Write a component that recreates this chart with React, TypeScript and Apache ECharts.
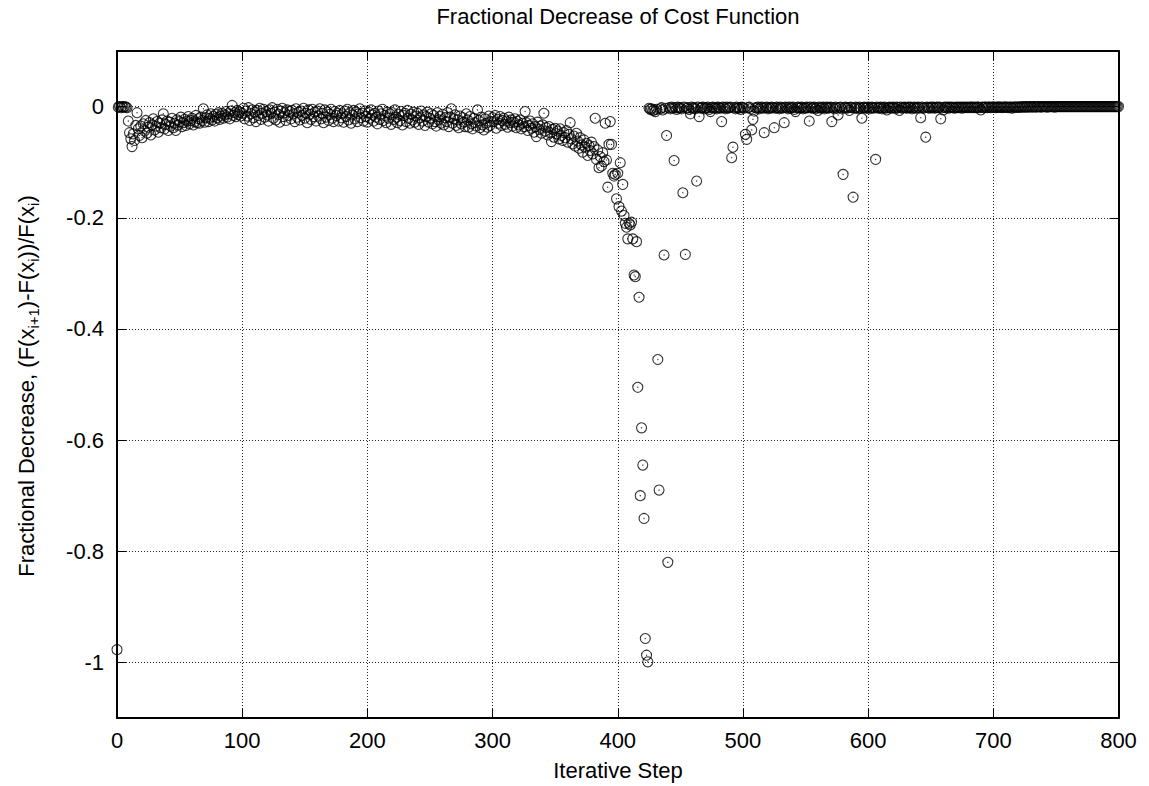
import React, { useEffect, useRef } from 'react';
import * as echarts from 'echarts';

const titleText = 'Fractional Decrease of Cost Function';
const xAxisTitle = 'Iterative Step';
const yAxisTitleRich = '{m|Fractional Decrease, (F(x}{s|i+1}{m|)-F(x}{s|i}{m|))/F(x}{s|i}{m|)}';

const xTicks = [0, 100, 200, 300, 400, 500, 600, 700, 800];
const yTicks = [-1, -0.8, -0.6, -0.4, -0.2, 0];
const yMin = -1.1;
const yMax = 0.1;

// steps 0..19
const stepsHead = [
  -0.977, -0.001, 0, -0.002, 0, -0.001, 0, -0.001, -0.002, -0.026,
  -0.047, -0.058, -0.072, -0.049, -0.061, -0.034, -0.011, -0.04, -0.052, -0.035,
];

// steps 20..99
const band20to99 = [
  -0.056, -0.031, -0.044, -0.025, -0.048, -0.037, -0.029, -0.051, -0.033, -0.022,
  -0.042, -0.035, -0.027, -0.046, -0.03, -0.038, -0.024, -0.013, -0.04, -0.032,
  -0.026, -0.043, -0.028, -0.035, -0.021, -0.038, -0.03, -0.043, -0.024, -0.033,
  -0.027, -0.019, -0.036, -0.029, -0.023, -0.034, -0.026, -0.018, -0.031, -0.025,
  -0.021, -0.033, -0.027, -0.016, -0.029, -0.022, -0.03, -0.019, -0.025, -0.004,
  -0.028, -0.02, -0.015, -0.027, -0.021, -0.013, -0.024, -0.018, -0.026, -0.014,
  -0.02, -0.011, -0.023, -0.017, -0.012, -0.021, -0.015, -0.009, -0.019, -0.013,
  -0.022, -0.008, 0.002, -0.016, -0.011, -0.018, -0.007, -0.014, -0.01, -0.017,
];

// steps 100..299
const band100to299 = [
  -0.012, -0.003, -0.022, -0.008, -0.017, -0.002, -0.025, -0.013, -0.006, -0.02, -0.01, -0.027, -0.007, -0.016, -0.003, -0.023, -0.012, -0.005, -0.019, -0.009,
  -0.015, -0.026, -0.006, -0.012, -0.002, -0.021, -0.01, -0.024, -0.005, -0.014, -0.028, -0.008, -0.003, -0.018, -0.011, -0.025, -0.006, -0.016, -0.009, -0.022,
  -0.007, -0.013, -0.027, -0.004, -0.019, -0.01, -0.024, -0.008, -0.016, -0.003, -0.021, -0.012, -0.029, -0.006, -0.014, -0.023, -0.005, -0.018, -0.01, -0.026,
  -0.008, -0.017, -0.004, -0.022, -0.012, -0.029, -0.006, -0.019, -0.01, -0.025, -0.014, -0.005, -0.021, -0.027, -0.009, -0.016, -0.012, -0.026, -0.007, -0.02,
  -0.013, -0.028, -0.008, -0.018, -0.005, -0.024, -0.011, -0.03, -0.015, -0.007, -0.022, -0.01, -0.027, -0.013, -0.004, -0.02, -0.012, -0.026, -0.008, -0.018,
  -0.028, -0.01, -0.021, -0.006, -0.015, -0.026, -0.012, -0.019, -0.031, -0.008, -0.023, -0.013, -0.005, -0.025, -0.016, -0.029, -0.01, -0.021, -0.013, -0.032,
  -0.011, -0.023, -0.006, -0.019, -0.029, -0.014, -0.025, -0.009, -0.033, -0.016, -0.012, -0.027, -0.007, -0.021, -0.03, -0.014, -0.024, -0.01, -0.028, -0.017,
  -0.012, -0.032, -0.02, -0.008, -0.026, -0.015, -0.034, -0.018, -0.01, -0.028, -0.021, -0.013, -0.031, -0.016, -0.027, -0.035, -0.011, -0.024, -0.018, -0.03,
  -0.014, -0.033, -0.02, -0.027, -0.011, -0.036, -0.019, -0.004, -0.03, -0.022, -0.015, -0.034, -0.024, -0.038, -0.017, -0.031, -0.02, -0.028, -0.036, -0.013,
  -0.024, -0.037, -0.018, -0.031, -0.04, -0.021, -0.029, -0.035, -0.006, -0.025, -0.038, -0.019, -0.033, -0.042, -0.022, -0.03, -0.037, -0.017, -0.034, -0.027,
];

// steps 300..379
const band300to379 = [
  -0.02, -0.027, -0.016, -0.039, -0.023, -0.03, -0.018, -0.034, -0.025, -0.021, -0.032, -0.026, -0.037, -0.019, -0.029, -0.024, -0.035, -0.028, -0.022, -0.038,
  -0.027, -0.033, -0.024, -0.04, -0.03, -0.036, -0.009, -0.029, -0.043, -0.034, -0.026, -0.039, -0.031, -0.046, -0.036, -0.054, -0.028, -0.041, -0.035, -0.048,
  -0.033, -0.012, -0.044, -0.038, -0.051, -0.036, -0.047, -0.063, -0.041, -0.055, -0.039, -0.049, -0.044, -0.058, -0.04, -0.052, -0.061, -0.047, -0.056, -0.043,
  -0.064, -0.05, -0.029, -0.058, -0.067, -0.053, -0.071, -0.048, -0.062, -0.075, -0.056, -0.069, -0.082, -0.06, -0.073, -0.066, -0.088, -0.07, -0.079, -0.064,
];

// steps 380..424
const fall380to424 = [
  -0.085, -0.072, -0.021, -0.095, -0.078, -0.11, -0.09, -0.107, -0.083, -0.099,
  -0.03, -0.096, -0.145, -0.068, -0.027, -0.068, -0.12, -0.125, -0.122, -0.166,
  -0.12, -0.18, -0.101, -0.188, -0.14, -0.196, -0.21, -0.217, -0.238, -0.21,
  -0.213, -0.208, -0.238, -0.303, -0.306, -0.243, -0.505, -0.343, -0.7, -0.578,
  -0.645, -0.741, -0.957, -0.987, -0.999,
];

// steps 425..800
const tail425to800 = [
  -0.003, -0.005, -0.004, -0.007, -0.006, -0.009, -0.005, -0.455, -0.69, -0.004, -0.002, -0.006, -0.267, -0.003, -0.052, -0.82, -0.002, -0.004, -0.001, -0.003,
  -0.097, -0.002, -0.005, -0.001, -0.003, -0.002, -0.004, -0.155, -0.001, -0.266, -0.003, -0.002, -0.005, -0.013, -0.001, -0.003, -0.002, -0.004, -0.134, -0.001,
  -0.018, -0.003, -0.002, -0.001, -0.004, -0.002, -0.003, -0.001, -0.005, -0.009, -0.002, -0.001, -0.003, -0.002, -0.004, -0.001, -0.002, -0.003, -0.027, -0.001,
  -0.002, -0.004, -0.001, -0.003, -0.002, -0.001, -0.092, -0.073, -0.002, -0.004, -0.001, -0.003, -0.002, -0.005, -0.001, -0.002, -0.003, -0.05, -0.059, -0.002,
  -0.001, -0.004, -0.042, -0.023, -0.008, -0.002, -0.003, -0.001, -0.004, -0.002, -0.001, -0.003, -0.047, -0.002, -0.001, -0.004, -0.002, -0.003, -0.001, -0.002,
  -0.038, -0.003, -0.001, -0.002, -0.004, -0.001, -0.003, -0.002, -0.029, -0.001, -0.002, -0.004, -0.001, -0.003, -0.002, -0.001, -0.005, -0.009, -0.002, -0.001,
  -0.003, -0.002, -0.001, -0.004, -0.002, -0.003, -0.001, -0.002, -0.026, -0.001, -0.003, -0.002, -0.001, -0.004, -0.002, -0.007, -0.001, -0.003, -0.002, -0.001,
  -0.004, -0.002, -0.001, -0.003, -0.002, -0.001, -0.027, -0.002, -0.004, -0.001, -0.003, -0.015, -0.002, -0.001, -0.004, -0.122, -0.002, -0.001, -0.003, -0.002,
  -0.007, -0.001, -0.002, -0.163, -0.003, -0.001, -0.002, -0.004, -0.001, -0.003, -0.021, -0.002, -0.001, -0.003, -0.002, -0.001, -0.004, -0.002, -0.001, -0.003,
  -0.002, -0.095, -0.001, -0.003, -0.002, -0.001, -0.004, -0.002, -0.001, -0.003, -0.006, -0.002, -0.001, -0.003, -0.002, -0.001, -0.002, -0.004, -0.001, -0.002,
  -0.007, -0.001, -0.003, -0.002, -0.001, -0.002, -0.003, -0.001, -0.002, -0.001, -0.004, -0.002, -0.001, -0.003, -0.002, -0.001, -0.002, -0.02, -0.001, -0.003,
  -0.002, -0.055, -0.001, -0.002, -0.003, -0.001, -0.002, -0.001, -0.003, -0.002, -0.001, -0.002, -0.001, -0.022, -0.002, -0.006, -0.001, -0.002, -0.001, -0.003,
  -0.001, -0.002, -0.001, -0.002, -0.003, -0.001, -0.002, -0.001, -0.002, -0.001, -0.003, -0.001, -0.002, -0.001, -0.002, -0.001, -0.002, -0.001, -0.001, -0.002,
  -0.001, -0.002, -0.001, -0.001, -0.002, -0.006, -0.001, -0.002, -0.001, -0.001, -0.002, -0.001, -0.001, -0.002, -0.001, -0.001, -0.001, -0.002, -0.001, -0.001,
  -0.001, -0.001, -0.002, -0.001, -0.001, -0.001, -0.001, -0.002, -0.001, -0.001, -0.003, -0.001, -0.001, -0.001, -0.001, -0.001, -0.001, -0.001, 0, -0.001,
  0, -0.001, 0, -0.001, 0, 0, -0.001, 0, 0, -0.001, 0, 0, 0, -0.001, 0, 0, 0, 0, -0.001, 0,
  0, 0, 0, 0, -0.001, 0, 0, 0, 0, 0, 0, 0, 0, 0, 0, 0, 0, 0, 0, 0,
  0, 0, 0, 0, 0, 0, 0, 0, 0, 0, 0, 0, 0, 0, 0, 0, 0, 0, 0, 0,
  0, 0, 0, 0, 0, 0, 0, 0, 0, 0, 0, 0, 0, 0, 0, 0,
];

const FONT = "'Liberation Sans', Arial, Helvetica, sans-serif";

export default function App() {
  const ref = useRef<HTMLDivElement>(null);

  useEffect(() => {
    document.body.style.margin = '0';
    if (!ref.current) return;
    const chart = echarts.init(ref.current, null, { renderer: 'svg' });

    const values = [
      ...stepsHead,
      ...band20to99,
      ...band100to299,
      ...band300to379,
      ...fall380to424,
      ...tail425to800,
    ];
    const data = values.map((v, i) => [i, v]);

    const gridLine = { show: true, lineStyle: { color: '#222', width: 1, type: [1, 2] } };
    const frameLine = { show: true, onZero: false, lineStyle: { color: '#000', width: 2 } };
    const tick = { show: true, inside: true, length: 9, lineStyle: { color: '#000', width: 1 } };
    const xInterval = xTicks[1] - xTicks[0];

    chart.setOption({
      animation: false,
      backgroundColor: '#fff',
      grid: { left: 117, right: 30.5, top: 51, bottom: 68, containLabel: false },
      xAxis: [
        {
          type: 'value',
          position: 'bottom',
          min: xTicks[0],
          max: xTicks[xTicks.length - 1],
          interval: xInterval,
          axisLine: frameLine,
          axisTick: tick,
          splitLine: gridLine,
          axisLabel: { show: true, margin: 11, color: '#000', fontSize: 22, fontFamily: FONT },
        },
        {
          type: 'value',
          position: 'top',
          min: xTicks[0],
          max: xTicks[xTicks.length - 1],
          interval: xInterval,
          axisLine: frameLine,
          axisTick: tick,
          splitLine: { show: false },
          axisLabel: { show: false },
        },
      ],
      yAxis: [
        {
          type: 'value',
          position: 'left',
          min: yMin,
          max: yMax,
          axisLine: frameLine,
          axisTick: { ...tick, customValues: yTicks },
          splitLine: gridLine,
          axisLabel: {
            show: true,
            customValues: yTicks,
            margin: 13,
            color: '#000',
            fontSize: 22,
            fontFamily: FONT,
          },
        },
        {
          type: 'value',
          position: 'right',
          min: yMin,
          max: yMax,
          axisLine: frameLine,
          axisTick: { ...tick, customValues: yTicks },
          splitLine: { show: false },
          axisLabel: { show: false },
        },
      ],
      graphic: [
        {
          type: 'text',
          x: 618,
          y: 16,
          silent: true,
          style: {
            text: titleText,
            fill: '#000',
            fontSize: 22,
            fontFamily: FONT,
            align: 'center',
            verticalAlign: 'middle',
            textAlign: 'center',
            textVerticalAlign: 'middle',
          },
        },
        {
          type: 'text',
          x: 618,
          y: 770,
          silent: true,
          style: {
            text: xAxisTitle,
            fill: '#000',
            fontSize: 22,
            fontFamily: FONT,
            align: 'center',
            verticalAlign: 'middle',
            textAlign: 'center',
            textVerticalAlign: 'middle',
          },
        },
        {
          type: 'text',
          x: 26,
          y: 386,
          rotation: Math.PI / 2,
          silent: true,
          style: {
            text: yAxisTitleRich,
            fill: '#000',
            fontSize: 22,
            fontFamily: FONT,
            align: 'center',
            verticalAlign: 'middle',
            textAlign: 'center',
            textVerticalAlign: 'middle',
            rich: {
              m: { fontSize: 22, fontFamily: FONT, fill: '#000', color: '#000', lineHeight: 30 },
              s: { fontSize: 15, fontFamily: FONT, fill: '#000', color: '#000', lineHeight: 15, verticalAlign: 'bottom' },
            },
          },
        },
      ],
      series: [
        {
          type: 'scatter',
          xAxisIndex: 0,
          yAxisIndex: 0,
          data,
          symbol: 'circle',
          symbolSize: 10,
          clip: false,
          silent: true,
          itemStyle: { color: 'rgba(0,0,0,0)', borderColor: '#000', borderWidth: 1.1 },
          emphasis: { disabled: true },
        },
        {
          type: 'scatter',
          xAxisIndex: 0,
          yAxisIndex: 0,
          data,
          symbol: 'circle',
          symbolSize: 1.3,
          clip: false,
          silent: true,
          itemStyle: { color: '#000' },
          emphasis: { disabled: true },
        },
      ],
    });

    return () => chart.dispose();
  }, []);

  return <div ref={ref} style={{ width: 1149, height: 786 }} />;
}
